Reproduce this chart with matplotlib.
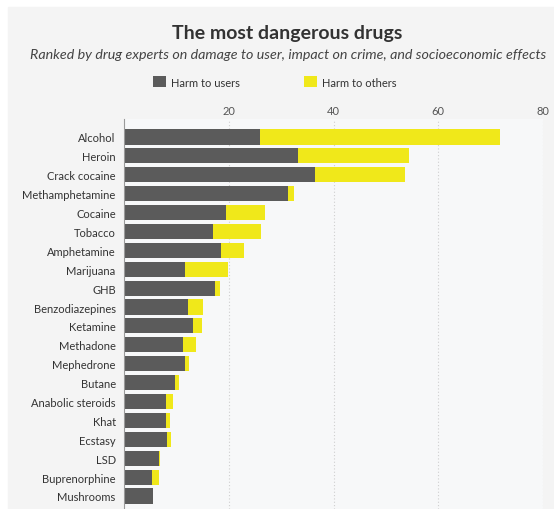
import numpy as np
import matplotlib.pyplot as plt
from matplotlib.patches import Rectangle

# =====================
# Data
# =====================
drugs = ['Alcohol', 'Heroin', 'Crack cocaine', 'Methamphetamine', 'Cocaine',
         'Tobacco', 'Amphetamine', 'Marijuana', 'GHB', 'Benzodiazepines',
         'Ketamine', 'Methadone', 'Mephedrone', 'Butane', 'Anabolic steroids',
         'Khat', 'Ecstasy', 'LSD', 'Buprenorphine', 'Mushrooms']
harm_users = [26, 33.2, 36.4, 31.4, 19.4, 16.9, 18.5, 11.7, 17.3, 12.2,
              13.1, 11.3, 11.7, 9.8, 8.1, 8.1, 8.3, 6.7, 5.3, 5.5]
harm_others = [45.7, 21.3, 17.3, 1.1, 7.6, 9.3, 4.4, 8.2, 1.1, 2.9,
               1.8, 2.5, 0.8, 0.7, 1.3, 0.6, 0.6, 0.2, 1.3, 0]
ticks = [20, 40, 60, 80]

grey = '#5b5b5b'
yellow = '#f0e81a'
bg = '#f4f4f4'
font = 'Lato'

W, H = 554, 510
fig = plt.figure(figsize=(W / 100, H / 100), dpi=100)
fig.patch.set_facecolor('white')

# grey panel behind everything
fig.patches.append(Rectangle((8 / W, 0), 1 - 8 / W, 1 - 8 / H,
                             transform=fig.transFigure, color=bg, zorder=-10))

ax = fig.add_axes([124 / W, 0, (543 - 124) / W, 1 - 120 / H])
ax.set_facecolor('#f7f8f9')

y = np.arange(len(drugs))
ax.barh(y, harm_users, height=0.8, color=grey, label='Harm to users', zorder=3)
ax.barh(y, harm_others, left=harm_users, height=0.8, color=yellow,
        label='Harm to others', zorder=3)

ax.set_xlim(0, 80)
ax.set_ylim(19.69, -0.95)

ax.set_yticks(y)
ax.set_yticklabels(drugs, fontsize=8, color='#333333', family=font)
ax.tick_params(axis='y', length=0, pad=6)

ax.xaxis.tick_top()
ax.set_xticks(ticks)
ax.set_xticklabels([str(t) for t in ticks], fontsize=8, color='#555555', family=font)
ax.tick_params(axis='x', length=0, pad=2)
ax.grid(axis='x', linestyle=(0, (1, 2)), color='#cfcfcf', lw=0.8, zorder=0)

for s in ['top', 'right', 'bottom']:
    ax.spines[s].set_visible(False)
ax.spines['left'].set_color('#9a9a9a')
ax.spines['left'].set_linewidth(0.8)
ax.spines['left'].set_zorder(4)

# =====================
# Title, subtitle, legend
# =====================
fig.text(287 / W, 1 - 33 / H, 'The most dangerous drugs', ha='center', va='center',
         fontsize=14, fontweight='bold', color='#333333', family=font)
fig.text(288 / W, 1 - 55 / H,
         'Ranked by drug experts on damage to user, impact on crime, and socioeconomic effects',
         ha='center', va='center', fontsize=10.3, style='italic', color='#444444', family=font)

fig.legend(loc='center', bbox_to_anchor=(275 / W, 1 - 83 / H), ncol=2, frameon=False,
           prop={'family': font, 'size': 8}, handlelength=1.1, handleheight=1.1,
           handletextpad=0.5, columnspacing=5.8, labelcolor='#333333')

fig.savefig('out.png', dpi=100, facecolor=fig.get_facecolor())
